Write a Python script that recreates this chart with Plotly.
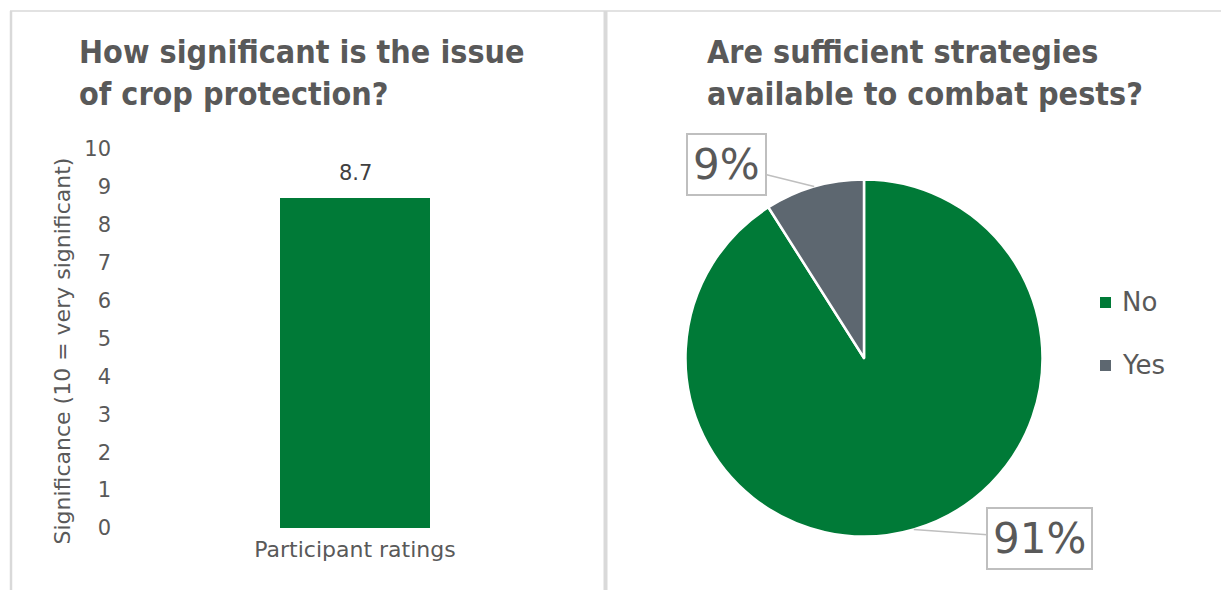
import math
import plotly.graph_objects as go

W, H = 1221, 590

# ---- data ----
bar_categories = ["Participant ratings"]
bar_values = [8.7]
ytick_vals = list(range(0, 11))
pie_labels = ["No", "Yes"]
pie_values = [91, 9]
pie_colors = ["#007A37", "#5D6770"]
bar_color = "#007A37"
left_title = "How significant is the issue<br>of crop protection?"
right_title = "Are sufficient strategies<br>available to combat pests?"
y_title = "Significance (10 = very significant)"

TXT = "#595959"
FONT = "DejaVu Sans, sans-serif"
TFONT = "DejaVu Sans Condensed, DejaVu Sans, sans-serif"


def px(x):
    return x / W


def py(y):
    return 1 - y / H


fig = go.Figure()

# ---- bar chart ----
fig.add_trace(go.Bar(
    x=bar_categories, y=bar_values, marker=dict(color=bar_color, line=dict(width=0)),
    width=0.307, showlegend=False, hoverinfo="skip",
))

# ---- pie chart ----
pie_dom_x = [px(685.5), px(1042.5)]
pie_dom_y = [py(536.5), py(179.5)]
fig.add_trace(go.Pie(
    labels=pie_labels, values=pie_values, sort=False, direction="clockwise",
    rotation=0, marker=dict(colors=pie_colors, line=dict(color="white", width=2.5)),
    textinfo="none", showlegend=False, hoverinfo="skip", automargin=False,
    domain=dict(x=pie_dom_x, y=pie_dom_y),
))

fig.update_layout(
    template="none",
    width=W, height=H, margin=dict(l=0, r=0, t=0, b=0, pad=0, autoexpand=False),
    showlegend=False,
    paper_bgcolor="white", plot_bgcolor="white", bargap=0,
    xaxis=dict(domain=[px(112), px(598)], showgrid=False, zeroline=False,
               showline=False, ticks="", automargin=False, ticklabelstandoff=6,
               tickfont=dict(size=22, color=TXT, family=FONT)),
    yaxis=dict(domain=[py(528), py(149)], range=[0, 10], tickvals=ytick_vals,
               showgrid=False, zeroline=False, showline=False, ticks="",
               automargin=False,
               tickfont=dict(size=21, color=TXT, family=FONT)),
    font=dict(family=FONT, color=TXT),
)

ann = []
# bar value labels
for c, v in zip(bar_categories, bar_values):
    ann.append(dict(text=f"{v}", x=c, y=v, xref="x", yref="y", xanchor="center",
                    yanchor="bottom", yshift=11, showarrow=False,
                    font=dict(size=21, color="#404040", family=FONT)))
# titles
for t, x0 in ((left_title, 77), (right_title, 705)):
    ann.append(dict(text=t, x=px(x0), y=py(31), xref="paper", yref="paper",
                    xanchor="left", yanchor="top", align="left", showarrow=False,
                    font=dict(size=32, color=TXT, family=TFONT, weight="bold")))
# y axis title
ann.append(dict(text=y_title, x=px(62), y=(py(548) + py(155)) / 2, xref="paper",
                yref="paper", textangle=-90, showarrow=False,
                xanchor="center", yanchor="middle",
                font=dict(size=22, color=TXT, family=FONT)))

# pie callout labels computed from the data
cx = (685.5 + 1042.5) / 2
cy = (536.5 + 179.5) / 2
r = (1042.5 - 685.5) / 2
total = sum(pie_values)
cum = 0
label_offsets = {"Yes": (-88, -22), "No": (126, 9)}
for lab, v in zip(pie_labels, pie_values):
    mid = (cum + v / 2) / total * 2 * math.pi
    cum += v
    ex = cx + r * math.sin(mid)
    ey = cy - r * math.cos(mid)
    ox, oy = label_offsets[lab]
    ann.append(dict(
        text=f"{round(v / total * 100)}%", x=px(ex), y=py(ey), xref="paper", yref="paper",
        ax=ox, ay=oy,
        showarrow=True, arrowhead=0, arrowwidth=1.5, arrowcolor="#BFBFBF",
        bordercolor="#BFBFBF", borderwidth=2, borderpad=5, bgcolor="white",
        font=dict(size=42, color=TXT, family=FONT),
    ))

# manual legend
for i, (lab, col) in enumerate(zip(pie_labels, pie_colors)):
    ly = 302 + i * 63
    fig.add_shape(type="rect", xref="paper", yref="paper",
                  x0=px(1100), x1=px(1111), y0=py(ly + 6), y1=py(ly - 5),
                  fillcolor=col, line=dict(width=0))
    ann.append(dict(text=lab, x=px(1120), y=py(ly), xref="paper", yref="paper",
                    xanchor="left", yanchor="middle", showarrow=False,
                    font=dict(size=26, color=TXT, family=FONT)))

fig.update_layout(annotations=ann)

# panel borders
border = "#D9D9D9"
fig.add_shape(type="line", xref="paper", yref="paper", x0=px(10), x1=1,
              y0=py(11), y1=py(11), line=dict(color=border, width=1.5))
fig.add_shape(type="line", xref="paper", yref="paper", x0=px(11), x1=px(11),
              y0=py(11), y1=0, line=dict(color=border, width=2.5))
fig.add_shape(type="line", xref="paper", yref="paper", x0=px(605.5), x1=px(605.5),
              y0=py(11), y1=0, line=dict(color=border, width=4))

fig.write_html("out.html")
